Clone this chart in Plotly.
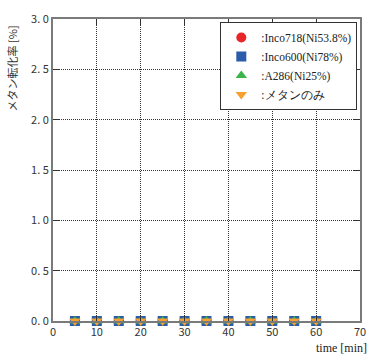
import plotly.graph_objects as go

# Sampling times [min] and methane conversion [%] for each catalyst material
time_min = [5, 10, 15, 20, 25, 30, 35, 40, 45, 50, 55, 60]
inco718 = [0, 0, 0, 0, 0, 0, 0, 0, 0, 0, 0, 0]
inco600 = [0, 0, 0, 0, 0, 0, 0, 0, 0, 0, 0, 0]
a286 = [0, 0, 0, 0, 0, 0, 0, 0, 0, 0, 0, 0]
methane_only = [0, 0, 0, 0, 0, 0, 0, 0, 0, 0, 0, 0]

series_names = [":Inco718(Ni53.8%)", ":Inco600(Ni78%)", ":A286(Ni25%)", ":メタンのみ"]
x_ticks = [0, 10, 20, 30, 40, 50, 60, 70]
y_ticks = [0.0, 0.5, 1.0, 1.5, 2.0, 2.5, 3.0]
y_ticktext = ["0. 0", "0. 5", "1. 0", "1. 5", "2. 0", "2. 5", "3. 0"]

styles = [
    dict(symbol="circle", color="#e8262a"),
    dict(symbol="square", color="#2a5caa"),
    dict(symbol="triangle-up", color="#3bb44a"),
    dict(symbol="triangle-down", color="#f5a031"),
]

fig = go.Figure()
for name, ys, st in zip(series_names, [inco718, inco600, a286, methane_only], styles):
    fig.add_trace(go.Scatter(
        x=time_min, y=ys, mode="markers", name=name,
        marker=dict(symbol=st["symbol"], color=st["color"], size=10, line=dict(width=0)),
        cliponaxis=False,
    ))

axis_common = dict(
    showline=True, linecolor="#7a7a7a", linewidth=2, mirror="ticks",
    ticks="inside", ticklen=6, tickcolor="#333", tickwidth=1,
    showgrid=True, gridcolor="#333", griddash="1px,1px", gridwidth=1,
    zeroline=False,
    tickfont=dict(family="Noto Sans CJK JP", size=11, color="#333"),
)

fig.update_layout(
    width=376, height=356,
    margin=dict(l=53, r=10, t=12, b=35),
    paper_bgcolor="white", plot_bgcolor="white",
    xaxis=dict(range=[0, 70], tickvals=x_ticks, **axis_common),
    yaxis=dict(range=[0, 3.0], tickvals=y_ticks, ticktext=y_ticktext, **axis_common),
    legend=dict(
        x=0.545, y=0.99, xanchor="left", yanchor="top",
        bgcolor="white", bordercolor="#333", borderwidth=1,
        font=dict(family="Liberation Serif", size=11.5, color="#222"),
        tracegroupgap=0, itemsizing="trace",
    ),
    showlegend=True,
    annotations=[
        dict(text="メタン転化率 [%]", textangle=-90, xref="paper", yref="paper",
             x=-0.135, y=0.835, xanchor="center", yanchor="middle", showarrow=False,
             font=dict(family="Noto Sans CJK JP", size=11, color="#333")),
        dict(text="time [min]", xref="paper", yref="paper",
             x=1.03, y=-0.06, xanchor="right", yanchor="top", showarrow=False,
             font=dict(family="Liberation Serif", size=12, color="#222")),
    ],
)

fig.write_html("out.html")
